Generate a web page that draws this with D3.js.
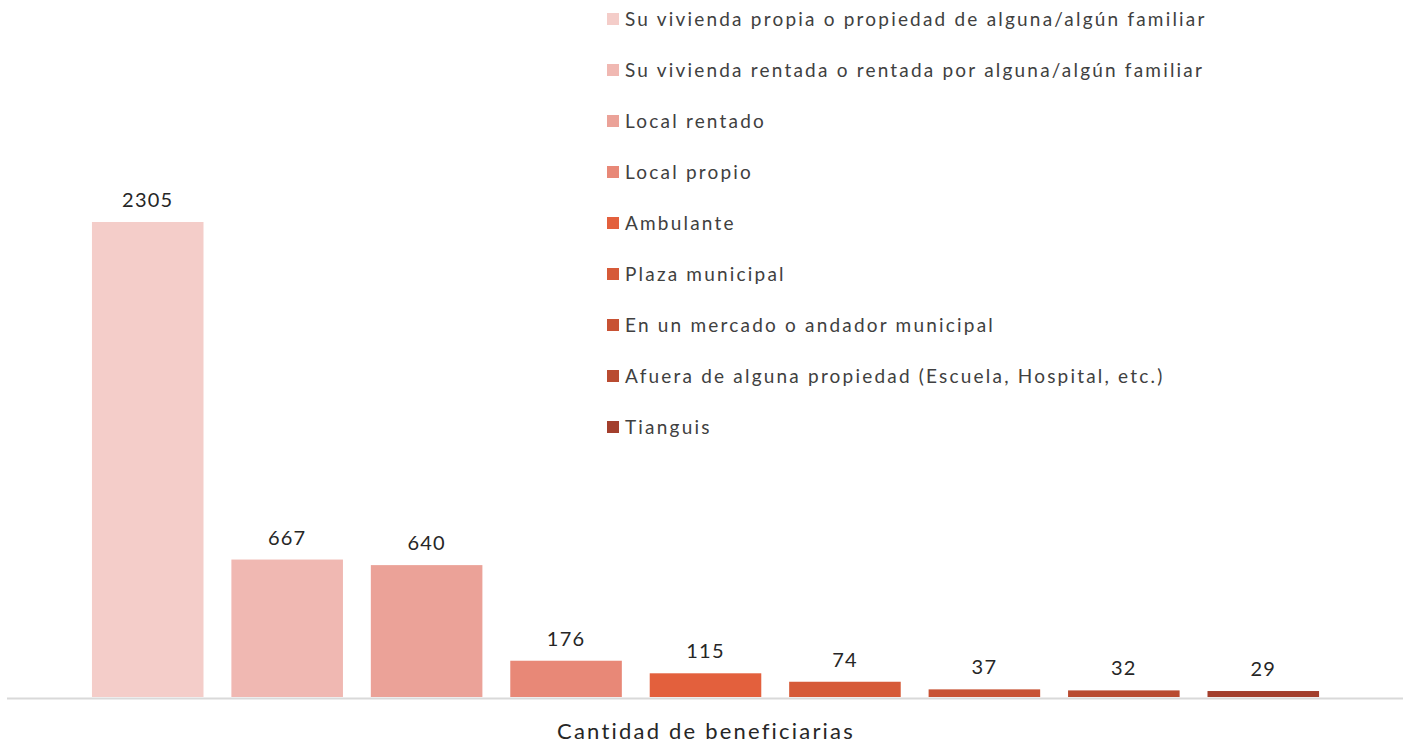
<!DOCTYPE html>
<html>
<head>
<meta charset="utf-8">
<script src="https://cdn.jsdelivr.net/npm/d3@7"></script>
<style>
  body { margin: 0; background: #fff; }
  text { font-family: "Lato", "Noto Sans", sans-serif; }
</style>
</head>
<body>
<div id="plot"></div>
<script>
// Chart data
const categories = [
  "Su vivienda propia o propiedad de alguna/algún familiar",
  "Su vivienda rentada o rentada por alguna/algún familiar",
  "Local rentado",
  "Local propio",
  "Ambulante",
  "Plaza municipal",
  "En un mercado o andador municipal",
  "Afuera de alguna propiedad (Escuela, Hospital, etc.)",
  "Tianguis"
];
const values = [2305, 667, 640, 176, 115, 74, 37, 32, 29];
const colors = ["#f4cdc9", "#f0b8b2", "#eba298", "#e88877", "#e3603d", "#d65a38", "#c85234", "#b94b31", "#a33f2d"];
const axisTitle = "Cantidad de beneficiarias";

const width = 1406, height = 744;
const baseline = 697;

const svg = d3.select("#plot").append("svg")
  .attr("width", width)
  .attr("height", height);

// Scales
const xScale = d3.scaleBand()
  .domain(categories)
  .range([78, 1333])
  .paddingInner(0.2)
  .paddingOuter(0.1);

const yScale = d3.scaleLinear()
  .domain([0, 2305])
  .range([baseline, 222]);

const colorScale = d3.scaleOrdinal().domain(categories).range(colors);

// Bars
svg.selectAll(".bar")
  .data(values)
  .join("rect")
  .attr("class", "bar")
  .attr("x", (d, i) => xScale(categories[i]))
  .attr("y", d => yScale(d))
  .attr("width", xScale.bandwidth())
  .attr("height", d => baseline - yScale(d))
  .attr("fill", (d, i) => colorScale(categories[i]));

// Value labels
svg.selectAll(".label")
  .data(values)
  .join("text")
  .attr("class", "label")
  .attr("x", (d, i) => xScale(categories[i]) + xScale.bandwidth() / 2)
  .attr("y", d => yScale(d) - 15)
  .attr("text-anchor", "middle")
  .attr("font-size", "20px")
  .attr("letter-spacing", "1.2px")
  .attr("fill", "#262626")
  .text(d => d);

// Baseline axis
svg.append("line")
  .attr("x1", 7).attr("x2", 1403)
  .attr("y1", baseline + 1.5).attr("y2", baseline + 1.5)
  .attr("stroke", "#d9d9d9")
  .attr("stroke-width", 2);

// Axis title
svg.append("text")
  .attr("x", 706)
  .attr("y", 739)
  .attr("text-anchor", "middle")
  .attr("font-size", "22px")
  .attr("letter-spacing", "2.2px")
  .attr("fill", "#262626")
  .text(axisTitle);

// Legend
const legend = svg.append("g").attr("transform", "translate(607, 19)");
const legendItem = legend.selectAll(".legend-item")
  .data(categories)
  .join("g")
  .attr("class", "legend-item")
  .attr("transform", (d, i) => `translate(0, ${i * 51})`);

legendItem.append("rect")
  .attr("x", 0).attr("y", -6)
  .attr("width", 12).attr("height", 12)
  .attr("fill", d => colorScale(d));

legendItem.append("text")
  .attr("x", 18)
  .attr("y", 0)
  .attr("dy", "0.35em")
  .attr("font-size", "19px")
  .attr("letter-spacing", "2.2px")
  .attr("fill", "#404040")
  .text(d => d);
</script>
</body>
</html>
